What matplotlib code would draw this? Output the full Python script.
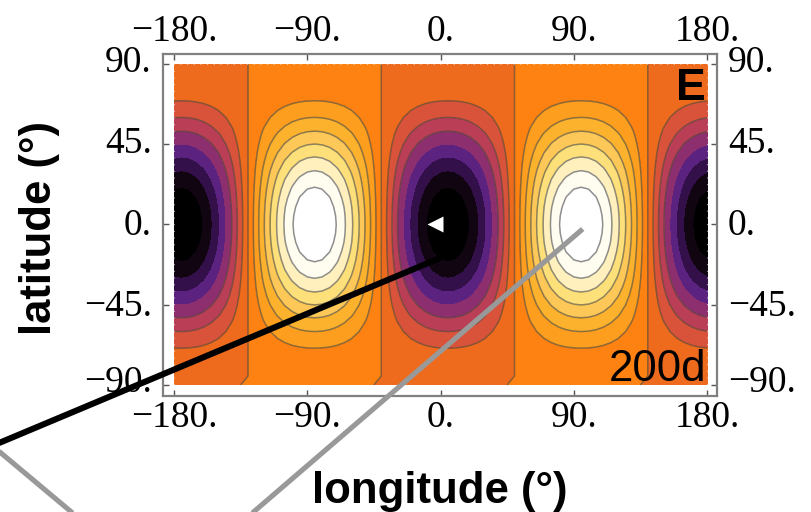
import numpy as np
import matplotlib
matplotlib.use("Agg")
import matplotlib.pyplot as plt
from matplotlib.lines import Line2D
from matplotlib.transforms import ScaledTranslation

W, H = 812, 512

lon_nodes = list(range(-180, 185, 5))
lon_profile = [-7.91, -8.03, -7.91, -7.55, -6.95, -6.15, -5.16, -4.02, -2.75, -1.39, 0.0,
               1.39, 2.75, 4.02, 5.16, 6.15, 6.95, 7.55, 7.91, 8.03, 7.91, 7.55, 6.95, 6.15,
               5.16, 4.02, 2.75, 1.39, 0.0, -1.39, -2.75, -4.02, -5.16, -6.15, -6.95, -7.55,
               -7.91, -8.03, -7.91, -7.55, -6.95, -6.15, -5.16, -4.02, -2.75, -1.39, 0.0,
               1.39, 2.75, 4.02, 5.16, 6.15, 6.95, 7.55, 7.91, 8.03, 7.91, 7.55, 6.95, 6.15,
               5.16, 4.02, 2.75, 1.39, 0.0, -1.39, -2.75, -4.02, -5.16, -6.15, -6.95, -7.55, -7.91]

# falloff towards the poles
lat_nodes = list(range(-90, 95, 5))
lat_profile = [0.004, 0.008, 0.03, 0.067, 0.117, 0.179, 0.25, 0.329, 0.413, 0.5, 0.587, 0.671, 0.75, 0.821,
               0.883, 0.933, 0.97, 0.992, 1.0, 0.992, 0.97, 0.933, 0.883, 0.821, 0.75, 0.671, 0.587, 0.5,
               0.413, 0.329, 0.25, 0.179, 0.117, 0.067, 0.03, 0.008, 0.004]

levels = [-20, -7, -6, -5, -4, -3, -2, -1, 0, 1, 2, 3, 4, 5, 6, 7, 20]
band_colors = ["#000000", "#100510", "#34104A", "#5B2280", "#8D2F6E", "#B93E56", "#D9533A", "#EE6A1C",
               "#FD8212", "#FD9E1E", "#FDB22E", "#FDC857", "#FEE07A", "#FFF0BE", "#FFFDF0", "#FFFFFF"]
line_levels = [-3, -2, -1, 0, 1, 2, 3, 4, 5, 6, 7]

x_ticks = [-180, -90, 0, 90, 180]
y_ticks = [-90, -45, 0, 45, 90]
y_label_lift = [6, 2, 3, 5, 5.5]  # px, the labels are not quite level with their ticks


def tick_text(v):
    return ("\u2212" if v < 0 else "") + str(abs(v)) + "."


def px(x, y):
    return x / W, 1 - y / H


plt.rcParams["font.family"] = ["Liberation Serif", "DejaVu Serif"]

fig = plt.figure(figsize=(W / 100, H / 100), dpi=100)
ax = fig.add_axes([163 / W, (H - 396) / H, (717 - 163) / W, (396 - 53.5) / H])

field = np.outer(lat_profile, lon_profile)
# the zero line hooks to the left right at the south edge
field[0] = 0.02 * np.roll(lon_profile, -1)

ax.contourf(lon_nodes, lat_nodes, field, levels=levels, colors=band_colors)
ax.contour(lon_nodes, lat_nodes, field, levels=line_levels, colors="#444444", linewidths=1.1, alpha=0.6,
           linestyles="solid")

# ragged pale edge of the map image
ax.plot([lon_nodes[0], lon_nodes[-1], lon_nodes[-1], lon_nodes[0], lon_nodes[0]],
        [lat_nodes[0], lat_nodes[0], lat_nodes[-1], lat_nodes[-1], lat_nodes[0]],
        color="white", lw=0.8, ls=(0, (1, 5)), alpha=0.55)

ax.plot([-3.5], [0], marker="<", ms=11, color="white", mec="none", ls="none")

ax.set_xlim(-187.43, 186.75)
ax.set_ylim(-96.2, 95.9)
ax.set_xticks(x_ticks, [tick_text(v) for v in x_ticks])
ax.set_yticks(y_ticks, [tick_text(v) for v in y_ticks])
ax.tick_params(direction="in", length=4, width=1, color="#555555", labelsize=27,
               top=True, right=True, labeltop=True, labelright=True)
ax.tick_params(axis="x", pad=3)
ax.tick_params(axis="y", pad=8)
for tick, lift in zip(ax.yaxis.get_major_ticks(), y_label_lift):
    for lab in (tick.label1, tick.label2):
        lab.set_transform(lab.get_transform() + ScaledTranslation(0, lift / 100, fig.dpi_scale_trans))
for s in ax.spines.values():
    s.set_color("#808080")
    s.set_linewidth(1.6)

fig.text(*px(706, 100), "E", ha="right", va="baseline", family="Liberation Sans", weight="bold", fontsize=32)
fig.text(*px(706, 381), "200d", ha="right", va="baseline", family="Liberation Sans", fontsize=31.5)
fig.text(*px(440, 503), "longitude (\u00b0)", ha="center", va="baseline", family="Liberation Sans",
         weight="bold", fontsize=31.5)
fig.text(*px(51, 228), "latitude (\u00b0)", ha="center", va="baseline", rotation=90, rotation_mode="anchor",
         family="Liberation Sans", weight="bold", fontsize=31.5)

# leader lines running off the figure
for (x0, y0, x1, y1), c, lw in [((-5, 444.7, 440, 258), "black", 4.4),
                                ((250, 515, 582.7, 229), "#999999", 3.7),
                                ((-5, 448, 75, 515), "#999999", 3.7)]:
    a, b = px(x0, y0), px(x1, y1)
    fig.add_artist(Line2D([a[0], b[0]], [a[1], b[1]], color=c, lw=lw, solid_capstyle="butt",
                          transform=fig.transFigure))

fig.savefig("out.png", dpi=100)
